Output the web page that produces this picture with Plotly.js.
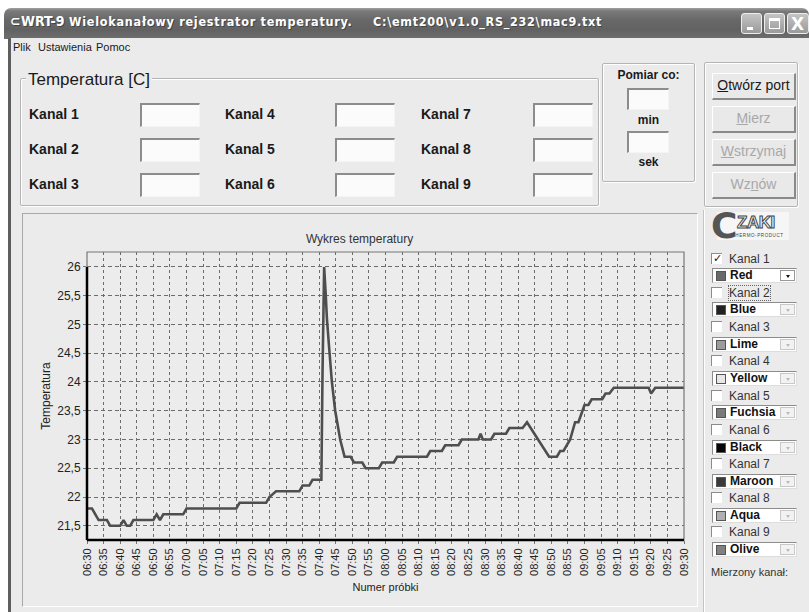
<!DOCTYPE html>
<html><head><meta charset="utf-8">
<script src="https://cdn.plot.ly/plotly-3.0.1.min.js"></script>
<style>
html,body{margin:0;padding:0;}
body{width:809px;height:612px;position:relative;overflow:hidden;background:#fff;font-family:"Liberation Sans",Arial,sans-serif;color:#1a1a1a;}
.a{position:absolute;box-sizing:border-box;}
#win{left:8px;top:38px;width:801px;height:574px;background:#ebebeb;border-left:3px solid #5e5e5e;}
#titlebar{left:4px;top:8px;width:805px;height:31px;background:linear-gradient(#a0a0a0 0px,#7a7a7a 3px,#686868 12px,#626262 22px,#6e6e6e 31px);border-radius:7px 7px 0 0;}
.tt{color:#fff;font-family:"DejaVu Sans Condensed","DejaVu Sans",sans-serif;font-weight:bold;white-space:nowrap;text-shadow:1px 1px 0 #444;}
.wb{top:13px;width:21px;height:21px;border:1px solid #eee;border-radius:3px;background:linear-gradient(#c4c4c4,#9a9a9a);}
.menu{top:41px;font-size:11px;font-family:"Liberation Sans",Arial,sans-serif;}
.grp{border:1px solid #b4b4b4;box-shadow:inset 1px 1px 0 #fff,1px 1px 0 #fff;border-radius:2px;}
.lbl{font-weight:bold;font-size:14px;white-space:nowrap;}
.tb{background:#fbfbfb;border-top:2px solid #8c8c8c;border-left:2px solid #8c8c8c;border-right:1px solid #f4f4f4;border-bottom:1px solid #f4f4f4;}
.btn{background:#e9e9e9;border-top:1px solid #fff;border-left:1px solid #fff;border-right:2px solid #8a8a8a;border-bottom:2px solid #8a8a8a;font-size:14px;text-align:center;line-height:23px;white-space:nowrap;}
.dis{color:#a8a8a8;}
.cb{width:11px;height:11px;background:#fff;border-top:1px solid #8c8c8c;border-left:1px solid #8c8c8c;font-size:11px;line-height:9px;text-align:center;}
.kl{font-size:12px;color:#333;white-space:nowrap;}
.combo{width:85px;height:15px;background:#fff;border-top:1px solid #8c8c8c;border-left:1px solid #8c8c8c;border-right:1px solid #ddd;border-bottom:1px solid #ddd;}
.sw{left:3px;top:2px;width:10px;height:10px;border:1px solid #555;}
.cn{left:17px;top:0px;font-size:12px;font-weight:bold;line-height:13px;color:#111;}
.dd{right:1px;top:1px;width:15px;height:11px;background:#f2f2f2;border:1px solid #c8c8c8;}
.tri{left:5px;top:4px;width:0;height:0;border-left:2px solid transparent;border-right:2px solid transparent;border-top:3px solid #bbb;}
</style></head>
<body>
<div id="titlebar" class="a"></div>
<div class="a tt" style="left:10px;top:13px;font-size:14px;">&#8834;</div>
<div class="a tt" style="left:21px;top:13px;font-size:14px;">WRT-9</div>
<div class="a tt" style="left:69px;top:14px;font-size:12.5px;letter-spacing:0.75px;">Wielokanałowy rejestrator temperatury.</div>
<div class="a tt" style="left:373px;top:14px;font-size:12.5px;letter-spacing:0.7px;">C:\emt200\v1.0_RS_232\mac9.txt</div>
<div class="a wb" style="left:741px;"><div class="a" style="left:5px;top:13px;width:6px;height:3px;background:#fff;"></div></div>
<div class="a wb" style="left:764px;"><div class="a" style="left:4px;top:4px;width:11px;height:11px;border:1px solid #fff;border-top-width:3px;"></div></div>
<div class="a wb" style="left:787px;width:22px;"><div class="a" style="left:3px;top:0px;color:#fff;font-size:17px;font-weight:bold;font-family:'DejaVu Sans',sans-serif;">X</div></div>

<div id="win" class="a"></div>
<div class="a menu" style="left:13px;">Plik</div>
<div class="a menu" style="left:38px;">Ustawienia</div>
<div class="a menu" style="left:96px;">Pomoc</div>

<!-- Temperatura group -->
<div class="a grp" style="left:20px;top:78px;width:579px;height:128px;"></div>
<div class="a" style="left:26px;top:70px;padding:0 2px;background:#ebebeb;font-size:17px;white-space:nowrap;">Temperatura [C]</div>
<div id="kanaly"></div>

<!-- Pomiar co -->
<div class="a grp" style="left:602px;top:63px;width:93px;height:119px;"></div>
<div class="a lbl" style="left:602px;width:93px;top:68px;font-size:12px;text-align:center;">Pomiar co:</div>
<div class="a tb" style="left:627px;top:88px;width:42px;height:22px;"></div>
<div class="a lbl" style="left:602px;width:93px;top:113px;font-size:12px;text-align:center;">min</div>
<div class="a tb" style="left:627px;top:131px;width:42px;height:22px;"></div>
<div class="a lbl" style="left:602px;width:93px;top:155px;font-size:12px;text-align:center;">sek</div>

<!-- buttons -->
<div class="a grp" style="left:704px;top:62px;width:94px;height:145px;"></div>
<div class="a btn" style="left:712px;top:73px;width:84px;height:27px;"><u>O</u>twórz port</div>
<div class="a btn dis" style="left:712px;top:106px;width:84px;height:27px;"><u>M</u>ierz</div>
<div class="a btn dis" style="left:712px;top:139px;width:84px;height:27px;"><u>W</u>strzymaj</div>
<div class="a btn dis" style="left:712px;top:172px;width:84px;height:27px;">Wz<u>n</u>ów</div>

<!-- chart panel -->
<div class="a" style="left:22px;top:213px;width:676px;height:394px;border-top:1px solid #a8a8a8;border-left:1px solid #a8a8a8;border-right:1px solid #fff;border-bottom:1px solid #fff;"></div>
<div class="a" style="left:703px;top:210px;width:2px;height:402px;border-left:1px solid #c4c4c4;border-right:1px solid #fff;"></div>
<div id="chart" class="a" style="left:22px;top:213px;width:675px;height:393px;"></div>

<!-- logo -->
<div class="a" style="left:717px;top:212px;width:72px;height:28px;background:#f6f6f6;"></div>
<div class="a" style="left:711px;top:205px;font-size:36px;font-weight:bold;color:#555;font-family:'DejaVu Sans',sans-serif;letter-spacing:-2px;">C</div>
<div class="a" style="left:737px;top:213px;font-size:17px;font-weight:bold;color:#f6f6f6;-webkit-text-stroke:1px #444;font-family:'Liberation Sans',sans-serif;letter-spacing:-0.5px;">ZAKI</div>
<div class="a" style="left:732px;top:233px;font-size:4.5px;color:#444;letter-spacing:0.6px;white-space:nowrap;">THERMO-PRODUCT</div>

<div id="kanalList"></div>
<div class="a" style="left:711px;top:566px;font-size:11px;color:#333;white-space:nowrap;">Mierzony kanał:</div>

<script>
// ---- chart data ----
const day = "2000-01-01 ";
const times = [
 "06:30:00","06:31:30","06:33:30","06:36:00","06:37:00","06:40:00","06:41:00","06:42:00","06:43:00","06:44:00",
 "06:50:00","06:51:00","06:52:00","06:53:00","06:59:00","07:00:00","07:15:00","07:16:00","07:24:00","07:25:00",
 "07:27:00","07:34:00","07:35:00","07:37:00","07:38:00","07:40:40","07:41:00","07:41:30","07:42:00","07:42:20",
 "07:43:00","07:43:50","07:44:50","07:46:20","07:47:40","07:49:30","07:50:30","07:53:00","07:54:00","07:58:00",
 "07:59:00","08:02:30","08:03:30","08:12:30","08:13:30","08:17:00","08:18:00","08:22:00","08:23:00","08:28:00",
 "08:28:40","08:29:20","08:31:50","08:32:50","08:36:20","08:37:20","08:41:20","08:42:40","08:49:20","08:51:40",
 "08:52:40","08:53:40","08:55:40","08:57:10","08:58:10","09:00:00","09:01:10","09:02:10","09:05:20","09:06:20",
 "09:07:30","09:08:50","09:19:20","09:20:05","09:21:20","09:30:00"
];
const kanal1 = [
 21.8,21.8,21.6,21.6,21.5,21.5,21.6,21.5,21.5,21.6,
 21.6,21.7,21.6,21.7,21.7,21.8,21.8,21.9,21.9,22.0,
 22.1,22.1,22.2,22.2,22.3,22.3,24.1,26.0,25.5,25.1,
 24.6,24.0,23.5,23.0,22.7,22.7,22.6,22.6,22.5,22.5,
 22.6,22.6,22.7,22.7,22.8,22.8,22.9,22.9,23.0,23.0,
 23.1,23.0,23.0,23.1,23.1,23.2,23.2,23.3,22.7,22.7,
 22.8,22.8,23.0,23.3,23.3,23.6,23.6,23.7,23.7,23.8,
 23.8,23.9,23.9,23.8,23.9,23.9
];
const xTickLabels = ["06:30","06:35","06:40","06:45","06:50","06:55","07:00","07:05","07:10","07:15","07:20","07:25",
 "07:30","07:35","07:40","07:45","07:50","07:55","08:00","08:05","08:10","08:15","08:20","08:25",
 "08:30","08:35","08:40","08:45","08:50","08:55","09:00","09:05","09:10","09:15","09:20","09:25","09:30"];
const yTicks = [21.5,22,22.5,23,23.5,24,24.5,25,25.5,26];

// ---- UI data ----
const channelLabels = ["Kanal 1","Kanal 2","Kanal 3","Kanal 4","Kanal 5","Kanal 6","Kanal 7","Kanal 8","Kanal 9"];
const colorNames = ["Red","Blue","Lime","Yellow","Fuchsia","Black","Maroon","Aqua","Olive"];
const swatchGray = ["#6a6a6a","#222222","#9c9c9c","#e8e8e8","#7a7a7a","#050505","#3a3a3a","#b0b0b0","#808080"];

// channel text fields
(function(){
  let html = "";
  const colL = [29,225,421], colB = [140,335,533], rowT = [103,138,173];
  for (let c=0;c<3;c++) for (let r=0;r<3;r++){
    const i = c*3+r;
    html += `<div class="a lbl" style="left:${colL[c]}px;top:${rowT[r]+3}px;">${channelLabels[i]}</div>`;
    html += `<div class="a tb" style="left:${colB[c]}px;top:${rowT[r]}px;width:60px;height:24px;"></div>`;
  }
  document.getElementById('kanaly').innerHTML = html;
  let h2 = "";
  for (let i=0;i<9;i++){
    const ky = 253 + i*34.15, cy = 268 + i*34.3;
    h2 += `<div class="a cb" style="left:711px;top:${ky}px;">${i===0?'&#10003;':''}</div>`;
    h2 += `<div class="a kl" style="left:729px;top:${ky-1}px;${i===1?'outline:1px dotted #666;':''}">${channelLabels[i]}</div>`;
    h2 += `<div class="a combo" style="left:712px;top:${cy}px;"><div class="a sw" style="background:${swatchGray[i]};"></div><div class="a cn">${colorNames[i]}</div><div class="a dd"${i===0?' style="background:#fff;border-color:#999;"':''}><div class="a tri"${i===0?' style="border-top-color:#111;"':''}></div></div></div>`;
  }
  document.getElementById('kanalList').innerHTML = h2;
})();

// ---- chart ----
const xs = times.map(t => day + t);
const trace = {
  x: xs, y: kanal1, type: 'scatter', mode: 'lines', name: 'Kanal 1',
  line: {color: '#4e4e4e', width: 2.6}, hoverinfo: 'skip'
};
const fontFam = '"Liberation Sans", Arial, sans-serif';
const yMin = 21.253, yMax = 26.26;
const layout = {
  width: 675, height: 393,
  margin: {l: 65, r: 13, t: 39, b: 66},
  paper_bgcolor: 'rgba(0,0,0,0)', plot_bgcolor: '#ececec',
  separators: ', ',
  showlegend: false,
  font: {family: fontFam, color: '#222'},
  title: {text: 'Wykres temperatury', font: {family: fontFam, size: 12, color: '#333'},
          x: 0.5, xref: 'container', xanchor: 'center', y: 1 - 26/393, yref: 'container', yanchor: 'middle'},
  xaxis: {
    type: 'date', range: [day + xTickLabels[0], day + xTickLabels[xTickLabels.length-1]],
    tickmode: 'array', tickvals: xTickLabels.map(l => day + l), ticktext: xTickLabels,
    tickangle: -90, tickfont: {family: fontFam, size: 11, color: '#222'},
    ticks: 'outside', ticklen: 3, tickcolor: '#777', tickwidth: 1,
    showgrid: true, gridcolor: '#6c6c6c', gridwidth: 1, griddash: '3px,3px',
    zeroline: false, showline: false, automargin: false, fixedrange: true,
    title: {text: 'Numer próbki', font: {family: fontFam, size: 11, color: '#222'}, standoff: 8}
  },
  yaxis: {
    range: [yMin, yMax], tickmode: 'array', tickvals: yTicks,
    tickfont: {family: fontFam, size: 12, color: '#222'},
    ticks: 'outside', ticklen: 3, tickcolor: '#777', tickwidth: 1,
    showgrid: true, gridcolor: '#6c6c6c', gridwidth: 1, griddash: '4px,3px',
    zeroline: false, showline: false, automargin: false, fixedrange: true,
    title: {text: 'Temperatura', font: {family: fontFam, size: 12, color: '#222'}, standoff: 4}
  },
  shapes: [
    {type: 'rect', xref: 'paper', yref: 'paper', x0: 0, x1: 1, y0: 0, y1: 1, line: {color: '#777', width: 1.2}},
    {type: 'line', xref: 'paper', yref: 'y', x0: 0, x1: 0, y0: yMin, y1: yTicks[yTicks.length-1], line: {color: '#000', width: 2.5}},
    {type: 'line', xref: 'paper', yref: 'paper', x0: 0, x1: 1, y0: 0, y1: 0, line: {color: '#000', width: 2.5}}
  ]
};
Plotly.newPlot('chart', [trace], layout, {displayModeBar: false, staticPlot: true});
</script>
</body></html>
